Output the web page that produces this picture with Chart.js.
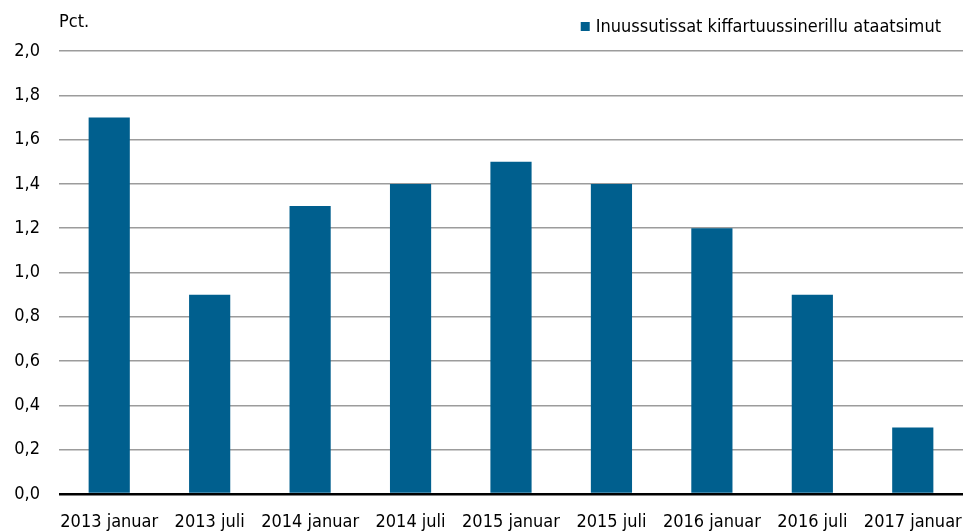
<!DOCTYPE html>
<html>
<head>
<meta charset="utf-8">
<script src="https://cdn.jsdelivr.net/npm/chart.js@4/dist/chart.umd.min.js"></script>
<style>
html,body{margin:0;padding:0;background:#fff;}
#wrap{width:963px;height:531px;position:relative;}
</style>
</head>
<body>
<div id="wrap"><canvas id="c" width="963" height="531"></canvas></div>
<script>
const categories = ['2013 januar','2013 juli','2014 januar','2014 juli','2015 januar','2015 juli','2016 januar','2016 juli','2017 januar'];
const seriesName = 'Inuussutissat kiffartuussinerillu ataatsimut';
const values = [1.7, 0.9, 1.3, 1.4, 1.5, 1.4, 1.2, 0.9, 0.3];
const yUnit = 'Pct.';

const FONT = "'DejaVu Sans Condensed', 'Liberation Sans Narrow', sans-serif";
const BLUE = '#005f8e';

const textPlugin = {
  id: 'texts',
  afterDraw(chart) {
    const ctx = chart.ctx;
    ctx.save();
    ctx.font = '18px ' + FONT;
    ctx.fillStyle = '#000';
    ctx.textBaseline = 'middle';
    ctx.textAlign = 'left';
    ctx.fillText(yUnit, 59, 22);
    // legend
    ctx.textAlign = 'right';
    const right = 941;
    const w = ctx.measureText(seriesName).width;
    ctx.fillText(seriesName, right, 27);
    ctx.fillStyle = BLUE;
    ctx.fillRect(right - w - 15, 22, 9, 9);
    ctx.restore();
  }
};

new Chart(document.getElementById('c'), {
  type: 'bar',
  data: {
    labels: categories,
    datasets: [{
      label: seriesName,
      data: values,
      backgroundColor: BLUE,
      borderWidth: 0,
      barPercentage: 0.41,
      categoryPercentage: 1.0
    }]
  },
  options: {
    responsive: false,
    animation: false,
    devicePixelRatio: 1,
    layout: { padding: { top: 51, right: 0, bottom: 0, left: 0 } },
    plugins: {
      legend: { display: false },
      tooltip: { enabled: false }
    },
    scales: {
      x: {
        afterFit: (axis) => { axis.height = 37; axis.paddingLeft = 0; axis.paddingRight = 0; },
        grid: { display: false, drawTicks: false },
        border: { display: false },
        ticks: {
          color: '#000',
          font: { family: FONT, size: 18 },
          maxRotation: 0,
          autoSkip: false,
          padding: 18
        }
      },
      y: {
        min: 0,
        max: 2.0,
        afterFit: (axis) => { axis.width = 59; axis.paddingTop = 0; axis.paddingBottom = 0; },
        grid: {
          drawTicks: false,
          color: (c) => c.tick && c.tick.value === 0 ? '#000' : '#9c9c9c',
          lineWidth: (c) => c.tick && c.tick.value === 0 ? 2.5 : 1.5
        },
        border: { display: false },
        ticks: {
          stepSize: 0.2,
          color: '#000',
          padding: 19,
          font: { family: FONT, size: 18 },
          callback: (v) => Number(v).toFixed(1).replace('.', ',')
        }
      }
    }
  },
  plugins: [textPlugin]
});
</script>
</body>
</html>
